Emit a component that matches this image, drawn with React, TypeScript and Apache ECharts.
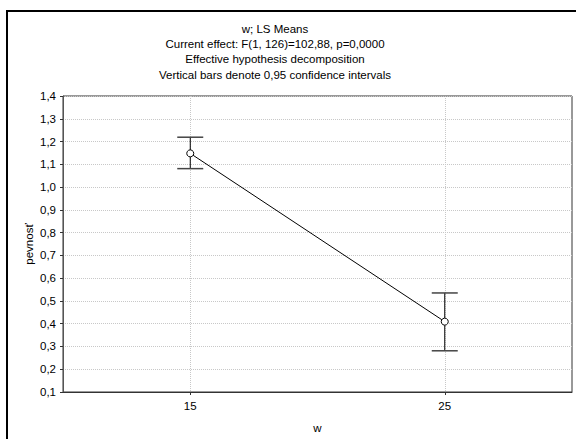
import React, { useEffect, useRef } from "react";
import * as echarts from "echarts";

const titleLines = [
  "w; LS Means",
  "Current effect: F(1, 126)=102,88, p=0,0000",
  "Effective hypothesis decomposition",
  "Vertical bars denote 0,95 confidence intervals",
];
const xValues = [15, 25];
const means = [1.148, 0.409];
const upper = [1.219, 0.535];
const lower = [1.081, 0.281];
const xTicks = [15, 25];
const yName = "pevnosť";
const xName = "w";

const FONT = "'Liberation Sans', Arial, sans-serif";

export default function App() {
  const ref = useRef<HTMLDivElement>(null);
  useEffect(() => {
    if (!ref.current) return;
    const chart = echarts.init(ref.current, undefined, { renderer: "svg" });
    const lineData = xValues.map((x, i) => [x, means[i]]);
    const errData = xValues.map((x, i) => [x, lower[i], upper[i]]);
    chart.setOption({
      animation: false,
      backgroundColor: "#fff",
      textStyle: { fontFamily: FONT },
      title: {
        text: titleLines.join("\n"),
        left: 270,
        top: 16,
        textAlign: "center",
        textStyle: {
          fontFamily: FONT,
          fontSize: 11.5,
          fontWeight: "normal",
          color: "#000",
          lineHeight: 15.3,
        },
      },
      grid: {
        left: 63,
        top: 96,
        width: 509,
        height: 296,
        show: true,
        borderColor: "#333",
        borderWidth: 1,
        containLabel: false,
      },
      xAxis: {
        type: "value",
        min: 10,
        max: 30,
        interval: 5,
        name: xName,
        nameLocation: "middle",
        nameGap: 30,
        nameMoveOverlap: false,
        nameTextStyle: { fontFamily: FONT, fontSize: 11.5, color: "#000" },
        axisLine: { show: true, lineStyle: { color: "#333", width: 1 } },
        axisTick: { show: true, length: 3, customValues: xTicks, lineStyle: { color: "#333" } },
        axisLabel: {
          customValues: xTicks,
          margin: 8,
          fontFamily: FONT,
          fontSize: 11.5,
          color: "#000",
        },
        splitLine: { show: true, lineStyle: { color: "#c8c8c8", type: "dotted", width: 1 } },
      },
      yAxis: {
        type: "value",
        min: 0.1,
        max: 1.4,
        interval: 0.1,
        name: yName,
        nameLocation: "middle",
        nameGap: 28,
        nameRotate: 90,
        nameMoveOverlap: false,
        nameTextStyle: { fontFamily: FONT, fontSize: 11.5, color: "#000" },
        axisLine: { show: true, lineStyle: { color: "#555", width: 1 } },
        axisTick: { show: true, length: 3, lineStyle: { color: "#333" } },
        axisLabel: {
          margin: 7,
          fontFamily: FONT,
          fontSize: 11.5,
          color: "#000",
          formatter: (v: number) => v.toFixed(1).replace(".", ","),
        },
        splitLine: { show: true, lineStyle: { color: "#c8c8c8", type: "dotted", width: 1 } },
      },
      series: [
        {
          type: "custom",
          data: errData,
          z: 3,
          renderItem: (params: any, api: any) => {
            const x = api.value(0);
            const lo = api.coord([x, api.value(1)]);
            const hi = api.coord([x, api.value(2)]);
            const half = 13;
            return {
              type: "group",
              children: [
                {
                  type: "line",
                  shape: { x1: lo[0], y1: lo[1], x2: hi[0], y2: hi[1] },
                  style: { stroke: "#000", lineWidth: 1 },
                },
                {
                  type: "line",
                  shape: { x1: hi[0] - half, y1: hi[1], x2: hi[0] + half, y2: hi[1] },
                  style: { stroke: "#444", lineWidth: 1.5 },
                },
                {
                  type: "line",
                  shape: { x1: lo[0] - half, y1: lo[1], x2: lo[0] + half, y2: lo[1] },
                  style: { stroke: "#444", lineWidth: 1.5 },
                },
              ],
            };
          },
        },
        {
          type: "line",
          data: lineData,
          z: 5,
          symbol: "circle",
          symbolSize: 7,
          lineStyle: { color: "#000", width: 1 },
          itemStyle: { color: "#fff", borderColor: "#000", borderWidth: 1 },
        },
      ],
      graphic: [
        {
          type: "rect",
          shape: { x: 7, y: 11, width: 580, height: 440 },
          style: { fill: "none", stroke: "#000", lineWidth: 2 },
          silent: true,
        },
      ],
    });
    return () => chart.dispose();
  }, []);
  return (
    <div
      ref={ref}
      style={{ position: "fixed", left: 0, top: 0, width: 576, height: 439 }}
    />
  );
}
